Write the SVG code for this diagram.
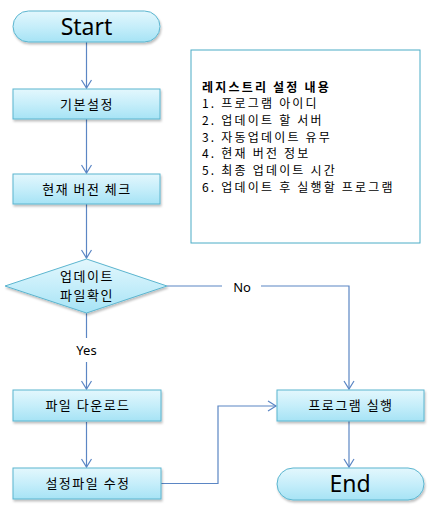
<svg xmlns="http://www.w3.org/2000/svg" width="438" height="515" viewBox="0 0 438 515">
<style>
.n{fill:url(#g);stroke:#5bb5cf;stroke-width:1;filter:url(#sh)}
.t{font-family:"Noto Sans CJK KR","Noto Sans",sans-serif;font-size:13px;fill:#000;text-anchor:middle;letter-spacing:1.5px}
.big{font-family:"Noto Sans","Noto Sans CJK KR",sans-serif;font-size:23px;fill:#000;text-anchor:middle}
.c{fill:none;stroke:#5b86c4;stroke-width:1.2}
.lbl{font-family:"Noto Sans","Noto Sans CJK KR",sans-serif;font-size:13px;fill:#000;text-anchor:middle}
.it{font-family:"Noto Sans CJK KR","Noto Sans",sans-serif;font-size:12px;fill:#000;letter-spacing:2.2px}
</style>
<defs>
<linearGradient id="g" x1="0" y1="0" x2="0" y2="1">
<stop offset="0" stop-color="#e3f7fd"/>
<stop offset="0.5" stop-color="#c6eefa"/>
<stop offset="1" stop-color="#a6e3f5"/>
</linearGradient>
<filter id="sh" x="-10%" y="-20%" width="120%" height="150%">
<feDropShadow dx="1" dy="2" stdDeviation="1.2" flood-color="#000" flood-opacity="0.25"/>
</filter>
<marker id="a" markerWidth="12" markerHeight="12" refX="10" refY="6" orient="auto" markerUnits="userSpaceOnUse">
<path d="M2,1 L10,6 L2,11" fill="none" stroke="#5b86c4" stroke-width="1.2"/>
</marker>
</defs>
<g id="connectors">
<line class="c" x1="86.5" y1="42" x2="86.5" y2="88" marker-end="url(#a)"/>
<line class="c" x1="86.5" y1="119" x2="86.5" y2="173" marker-end="url(#a)"/>
<line class="c" x1="86.5" y1="204" x2="86.5" y2="258" marker-end="url(#a)"/>
<polyline class="c" points="86.5,313 86.5,338"/>
<line class="c" x1="86.5" y1="362" x2="86.5" y2="389" marker-end="url(#a)"/>
<line class="c" x1="86.5" y1="422" x2="86.5" y2="467" marker-end="url(#a)"/>
<polyline class="c" points="167,286 222,286"/>
<polyline class="c" points="261,286 349,286 349,389" marker-end="url(#a)"/>
<polyline class="c" points="161,483.5 218,483.5 218,406 276,406" marker-end="url(#a)"/>
<line class="c" x1="349" y1="421" x2="349" y2="467" marker-end="url(#a)"/>
<text class="lbl" x="242" y="292">No</text>
<text class="lbl" x="86.5" y="355">Yes</text>
</g>
<g id="start">
<rect class="n" x="13" y="11" width="147" height="31" rx="15.5"/>
<text class="big" x="86.5" y="35">Start</text>
</g>
<g id="basic">
<rect class="n" x="13" y="89" width="147" height="30"/>
<text class="t" x="87" y="109">기본설정</text>
</g>
<g id="check">
<rect class="n" x="13" y="174" width="147" height="30"/>
<text class="t" x="87" y="194">현재 버전 체크</text>
</g>
<g id="decision">
<polygon class="n" points="86.5,259 167,286 86.5,313 5,286"/>
<text class="t" x="87" y="281">업데이트</text>
<text class="t" x="87" y="300">파일확인</text>
</g>
<g id="download">
<rect class="n" x="13" y="390" width="148" height="31"/>
<text class="t" x="88" y="410">파일 다운로드</text>
</g>
<g id="modify">
<rect class="n" x="13" y="468" width="148" height="31"/>
<text class="t" x="88" y="488">설정파일 수정</text>
</g>
<g id="run">
<rect class="n" x="277" y="390" width="147" height="31"/>
<text class="t" x="351" y="410">프로그램 실행</text>
</g>
<g id="end">
<rect class="n" x="277" y="468" width="147" height="32" rx="16"/>
<text class="big" x="350" y="492">End</text>
</g>
<g id="info">
<rect x="191" y="50" width="229" height="193" fill="#fff" stroke="#4bacc6" stroke-width="1"/>
<text class="it" x="202" y="92" font-weight="bold">레지스트리 설정 내용</text>
<text class="it" x="202" y="108">1. 프로그램 아이디</text>
<text class="it" x="202" y="125">2. 업데이트 할 서버</text>
<text class="it" x="202" y="142">3. 자동업데이트 유무</text>
<text class="it" x="202" y="158">4. 현재 버전 정보</text>
<text class="it" x="202" y="175">5. 최종 업데이트 시간</text>
<text class="it" x="202" y="192">6. 업데이트 후 실행할 프로그램</text>
</g>
</svg>
